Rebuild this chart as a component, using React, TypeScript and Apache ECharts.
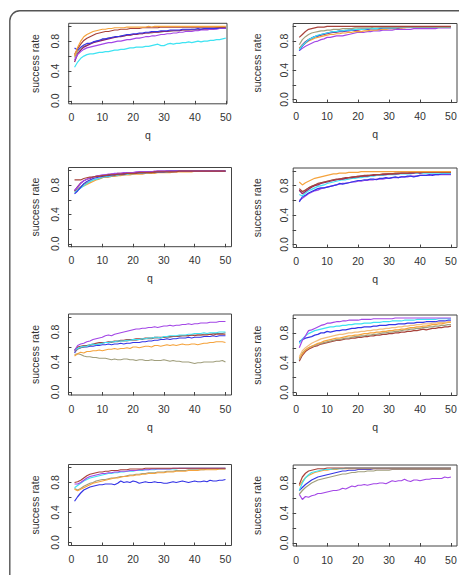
import React, { useEffect, useRef } from "react";
import * as echarts from "echarts";

// q values (x categories)
const Q = [
  1, 2, 3, 4, 5, 6, 7, 8, 9, 10, 11, 12, 13, 14, 15, 16, 17, 18, 19, 20,
  21, 22, 23, 24, 25, 26, 27, 28, 29, 30, 31, 32, 33, 34, 35, 36, 37, 38, 39, 40,
  41, 42, 43, 44, 45, 46, 47, 48, 49, 50,
];

const X_TICKS = [0, 10, 20, 30, 40, 50];
const Y_TICKS = [0, 0.2, 0.4, 0.6, 0.8, 1.0];
const Y_LABELS = [0, 0.4, 0.8];

// ---------- Panel 1 ----------
const P1_ORANGE = [
  0.60, 0.72, 0.80, 0.86, 0.89, 0.91, 0.93, 0.94, 0.95, 0.96,
  0.96, 0.97, 0.97, 0.98, 0.98, 0.98, 0.98, 0.99, 0.99, 0.99,
  0.99, 0.99, 0.99, 0.99, 1.00, 0.99, 1.00, 1.00, 1.00, 1.00,
  1.00, 1.00, 1.00, 1.00, 1.00, 1.00, 1.00, 1.00, 1.00, 1.00,
  1.00, 1.00, 1.00, 1.00, 1.00, 1.00, 1.00, 1.00, 1.00, 1.00,
];
const P1_BROWN = [
  0.62, 0.70, 0.76, 0.81, 0.84, 0.86, 0.88, 0.90, 0.91, 0.92,
  0.93, 0.93, 0.94, 0.95, 0.95, 0.96, 0.96, 0.96, 0.97, 0.97,
  0.97, 0.97, 0.98, 0.98, 0.98, 0.98, 0.98, 0.98, 0.99, 0.99,
  0.99, 0.99, 0.99, 0.99, 0.99, 0.99, 0.99, 0.99, 0.99, 0.99,
  0.99, 0.99, 0.99, 0.99, 0.99, 0.99, 0.99, 0.99, 0.99, 0.99,
];
const P1_BLUE = [
  0.71, 0.68, 0.72, 0.75, 0.77, 0.77, 0.79, 0.80, 0.81, 0.83,
  0.83, 0.84, 0.85, 0.86, 0.86, 0.87, 0.88, 0.89, 0.89, 0.90,
  0.90, 0.91, 0.91, 0.92, 0.92, 0.93, 0.93, 0.93, 0.94, 0.94,
  0.94, 0.95, 0.95, 0.95, 0.95, 0.96, 0.96, 0.96, 0.96, 0.96,
  0.97, 0.96, 0.97, 0.97, 0.97, 0.97, 0.97, 0.98, 0.98, 0.98,
];
const P1_PURPLE = [
  0.55, 0.62, 0.66, 0.69, 0.71, 0.72, 0.73, 0.74, 0.75, 0.76,
  0.77, 0.78, 0.78, 0.79, 0.80, 0.80, 0.81, 0.82, 0.82, 0.83,
  0.84, 0.84, 0.85, 0.86, 0.86, 0.87, 0.87, 0.88, 0.89, 0.89,
  0.90, 0.90, 0.91, 0.91, 0.92, 0.92, 0.93, 0.93, 0.93, 0.94,
  0.94, 0.95, 0.95, 0.95, 0.96, 0.96, 0.96, 0.97, 0.97, 0.97,
];
const P1_MAGENTA = [
  0.52, 0.63, 0.68, 0.72, 0.74, 0.76, 0.78, 0.79, 0.80, 0.81,
  0.82, 0.83, 0.84, 0.85, 0.86, 0.86, 0.87, 0.88, 0.88, 0.89,
  0.89, 0.90, 0.90, 0.91, 0.91, 0.92, 0.92, 0.92, 0.93, 0.93,
  0.93, 0.94, 0.94, 0.94, 0.94, 0.95, 0.95, 0.95, 0.95, 0.95,
  0.95, 0.96, 0.96, 0.96, 0.96, 0.96, 0.97, 0.97, 0.97, 0.97,
];
const P1_KHAKI = [
  0.58, 0.66, 0.70, 0.73, 0.75, 0.77, 0.78, 0.80, 0.81, 0.82,
  0.83, 0.84, 0.85, 0.85, 0.86, 0.87, 0.87, 0.88, 0.88, 0.89,
  0.89, 0.90, 0.90, 0.91, 0.91, 0.91, 0.92, 0.92, 0.92, 0.93,
  0.93, 0.93, 0.94, 0.94, 0.94, 0.95, 0.95, 0.95, 0.96, 0.96,
  0.96, 0.96, 0.97, 0.97, 0.97, 0.97, 0.98, 0.98, 0.98, 0.98,
];
const P1_CYAN = [
  0.45, 0.52, 0.57, 0.60, 0.62, 0.63, 0.63, 0.64, 0.65, 0.65,
  0.66, 0.66, 0.67, 0.68, 0.68, 0.69, 0.69, 0.70, 0.71, 0.71,
  0.72, 0.72, 0.72, 0.73, 0.73, 0.74, 0.75, 0.76, 0.74, 0.74,
  0.76, 0.77, 0.76, 0.77, 0.77, 0.78, 0.78, 0.79, 0.78, 0.79,
  0.80, 0.79, 0.80, 0.80, 0.81, 0.81, 0.82, 0.82, 0.83, 0.84,
];

// ---------- Panel 2 ----------
const P2_BROWN = [
  0.85, 0.89, 0.93, 0.96, 0.97, 0.98, 0.99, 0.99, 0.99, 1.00,
  1.00, 1.00, 1.00, 1.00, 1.00, 1.00, 1.00, 1.00, 1.00, 1.00,
  1.00, 1.00, 1.00, 1.00, 1.00, 1.00, 1.00, 1.00, 1.00, 1.00,
  1.00, 1.00, 1.00, 1.00, 1.00, 1.00, 1.00, 1.00, 1.00, 1.00,
  1.00, 1.00, 1.00, 1.00, 1.00, 1.00, 1.00, 1.00, 1.00, 1.00,
];
const P2_KHAKI = [
  0.75, 0.82, 0.86, 0.89, 0.91, 0.92, 0.93, 0.94, 0.94, 0.95,
  0.95, 0.96, 0.96, 0.96, 0.97, 0.97, 0.97, 0.97, 0.98, 0.98,
  0.98, 0.98, 0.98, 0.98, 0.99, 0.99, 0.99, 0.99, 0.99, 0.99,
  0.99, 0.99, 0.99, 0.99, 0.99, 0.99, 0.99, 0.99, 0.99, 0.99,
  0.99, 0.99, 0.99, 0.99, 0.99, 0.99, 0.99, 0.99, 0.99, 0.99,
];
const P2_ORANGE = [
  0.70, 0.74, 0.77, 0.80, 0.82, 0.84, 0.85, 0.86, 0.87, 0.88,
  0.89, 0.89, 0.90, 0.90, 0.91, 0.91, 0.92, 0.92, 0.93, 0.93,
  0.93, 0.94, 0.94, 0.95, 0.95, 0.95, 0.96, 0.96, 0.96, 0.97,
  0.97, 0.97, 0.98, 0.98, 0.98, 0.99, 0.99, 0.99, 0.99, 0.99,
  0.99, 0.99, 0.99, 0.99, 0.99, 0.99, 0.99, 0.99, 0.99, 0.99,
];
const P2_CYAN = [
  0.68, 0.74, 0.78, 0.82, 0.84, 0.86, 0.88, 0.89, 0.90, 0.91,
  0.92, 0.93, 0.93, 0.94, 0.94, 0.95, 0.95, 0.95, 0.96, 0.96,
  0.96, 0.96, 0.97, 0.97, 0.97, 0.97, 0.98, 0.98, 0.98, 0.98,
  0.98, 0.98, 0.99, 0.99, 0.99, 0.99, 0.99, 0.99, 0.99, 0.99,
  0.99, 0.99, 0.99, 0.99, 0.99, 0.99, 0.99, 0.99, 0.99, 0.99,
];
const P2_BLUE = [
  0.67, 0.73, 0.78, 0.81, 0.84, 0.86, 0.87, 0.89, 0.90, 0.91,
  0.92, 0.93, 0.93, 0.94, 0.94, 0.94, 0.95, 0.95, 0.95, 0.96,
  0.96, 0.96, 0.96, 0.97, 0.97, 0.97, 0.97, 0.98, 0.98, 0.98,
  0.98, 0.98, 0.98, 0.99, 0.99, 0.99, 0.99, 0.99, 0.99, 0.99,
  0.99, 0.99, 0.99, 0.99, 0.99, 0.99, 0.99, 0.99, 0.99, 0.99,
];
const P2_PURPLE = [
  0.67, 0.70, 0.73, 0.75, 0.77, 0.79, 0.80, 0.82, 0.83, 0.85,
  0.85, 0.86, 0.87, 0.87, 0.87, 0.88, 0.89, 0.90, 0.91, 0.92,
  0.92, 0.92, 0.93, 0.93, 0.94, 0.94, 0.94, 0.95, 0.95, 0.95,
  0.95, 0.96, 0.96, 0.96, 0.96, 0.96, 0.96, 0.97, 0.97, 0.97,
  0.97, 0.97, 0.97, 0.97, 0.97, 0.98, 0.98, 0.98, 0.98, 0.98,
];
const P2_MAGENTA = [
  0.70, 0.75, 0.79, 0.82, 0.84, 0.86, 0.87, 0.88, 0.89, 0.90,
  0.91, 0.92, 0.92, 0.93, 0.93, 0.94, 0.94, 0.95, 0.95, 0.95,
  0.96, 0.96, 0.96, 0.97, 0.97, 0.97, 0.97, 0.98, 0.98, 0.98,
  0.98, 0.98, 0.98, 0.98, 0.99, 0.99, 0.99, 0.99, 0.99, 0.99,
  0.99, 0.99, 0.99, 0.99, 0.99, 0.99, 0.99, 0.99, 0.99, 0.99,
];

// ---------- Panel 3 ----------
const P3_BROWN = [
  0.87, 0.87, 0.87, 0.89, 0.90, 0.91, 0.91, 0.92, 0.92, 0.93,
  0.93, 0.94, 0.94, 0.94, 0.95, 0.95, 0.95, 0.96, 0.96, 0.96,
  0.96, 0.97, 0.97, 0.97, 0.97, 0.97, 0.98, 0.98, 0.98, 0.98,
  0.98, 0.98, 0.98, 0.98, 0.99, 0.99, 0.99, 0.99, 0.99, 0.99,
  0.99, 0.99, 0.99, 0.99, 0.99, 0.99, 0.99, 0.99, 0.99, 0.99,
];
const P3_PURPLE = [
  0.73, 0.77, 0.82, 0.86, 0.88, 0.90, 0.91, 0.92, 0.93, 0.94,
  0.94, 0.95, 0.95, 0.96, 0.96, 0.96, 0.97, 0.97, 0.97, 0.97,
  0.98, 0.98, 0.98, 0.98, 0.98, 0.98, 0.99, 0.99, 0.99, 0.99,
  0.99, 0.99, 0.99, 0.99, 0.99, 0.99, 0.99, 0.99, 0.99, 0.99,
  0.99, 0.99, 0.99, 0.99, 0.99, 0.99, 0.99, 0.99, 0.99, 0.99,
];
const P3_MAGENTA = [
  0.72, 0.78, 0.83, 0.86, 0.88, 0.89, 0.91, 0.92, 0.93, 0.93,
  0.94, 0.94, 0.95, 0.95, 0.96, 0.96, 0.96, 0.97, 0.97, 0.97,
  0.97, 0.98, 0.98, 0.98, 0.98, 0.98, 0.98, 0.99, 0.99, 0.99,
  0.99, 0.99, 0.99, 0.99, 0.99, 0.99, 0.99, 0.99, 0.99, 0.99,
  0.99, 0.99, 0.99, 0.99, 0.99, 0.99, 0.99, 0.99, 0.99, 0.99,
];
const P3_BLUE = [
  0.68, 0.72, 0.77, 0.82, 0.85, 0.87, 0.89, 0.90, 0.91, 0.92,
  0.93, 0.93, 0.94, 0.94, 0.95, 0.95, 0.95, 0.96, 0.96, 0.96,
  0.97, 0.97, 0.97, 0.97, 0.98, 0.98, 0.98, 0.98, 0.98, 0.98,
  0.99, 0.99, 0.99, 0.99, 0.99, 0.99, 0.99, 0.99, 0.99, 0.99,
  0.99, 0.99, 0.99, 0.99, 0.99, 0.99, 0.99, 0.99, 0.99, 0.99,
];
const P3_CYAN = [
  0.70, 0.73, 0.76, 0.79, 0.82, 0.85, 0.87, 0.88, 0.89, 0.91,
  0.92, 0.92, 0.93, 0.94, 0.94, 0.95, 0.95, 0.95, 0.96, 0.96,
  0.96, 0.97, 0.97, 0.97, 0.97, 0.98, 0.98, 0.98, 0.98, 0.98,
  0.98, 0.99, 0.99, 0.99, 0.99, 0.99, 0.99, 0.99, 0.99, 0.99,
  0.99, 0.99, 0.99, 0.99, 0.99, 0.99, 0.99, 0.99, 0.99, 0.99,
];
const P3_ORANGE = [
  0.71, 0.74, 0.77, 0.79, 0.81, 0.83, 0.85, 0.87, 0.88, 0.90,
  0.91, 0.91, 0.92, 0.92, 0.93, 0.93, 0.94, 0.94, 0.94, 0.95,
  0.95, 0.95, 0.95, 0.96, 0.96, 0.96, 0.96, 0.97, 0.97, 0.97,
  0.97, 0.97, 0.98, 0.98, 0.98, 0.98, 0.98, 0.98, 0.98, 0.99,
  0.99, 0.99, 0.99, 0.99, 0.99, 0.99, 0.99, 0.99, 0.99, 0.99,
];
const P3_KHAKI = [
  0.72, 0.75, 0.78, 0.81, 0.83, 0.85, 0.87, 0.88, 0.89, 0.90,
  0.91, 0.91, 0.92, 0.93, 0.93, 0.94, 0.94, 0.95, 0.95, 0.95,
  0.96, 0.96, 0.96, 0.97, 0.97, 0.97, 0.97, 0.98, 0.98, 0.98,
  0.98, 0.98, 0.98, 0.99, 0.99, 0.99, 0.99, 0.99, 0.99, 0.99,
  0.99, 0.99, 0.99, 0.99, 0.99, 0.99, 0.99, 0.99, 0.99, 0.99,
];

// ---------- Panel 4 ----------
const P4_ORANGE = [
  0.85, 0.81, 0.84, 0.86, 0.88, 0.90, 0.91, 0.92, 0.93, 0.94,
  0.95, 0.96, 0.96, 0.97, 0.97, 0.97, 0.98, 0.98, 0.98, 0.98,
  0.99, 0.99, 0.99, 0.99, 0.99, 0.99, 0.99, 0.99, 0.99, 0.99,
  0.99, 0.99, 0.99, 0.99, 0.99, 0.99, 0.99, 0.99, 0.99, 0.99,
  0.99, 0.99, 0.99, 0.99, 0.99, 0.99, 0.99, 0.99, 0.99, 0.99,
];
const P4_BROWN = [
  0.76, 0.72, 0.74, 0.77, 0.79, 0.81, 0.83, 0.84, 0.85, 0.86,
  0.87, 0.88, 0.89, 0.89, 0.90, 0.91, 0.91, 0.92, 0.92, 0.93,
  0.93, 0.94, 0.94, 0.94, 0.95, 0.95, 0.95, 0.96, 0.96, 0.96,
  0.96, 0.97, 0.97, 0.97, 0.97, 0.97, 0.98, 0.98, 0.98, 0.98,
  0.98, 0.98, 0.98, 0.98, 0.98, 0.98, 0.98, 0.98, 0.98, 0.98,
];
const P4_MAGENTA = [
  0.74, 0.69, 0.72, 0.75, 0.78, 0.80, 0.81, 0.83, 0.84, 0.85,
  0.86, 0.87, 0.88, 0.89, 0.89, 0.90, 0.91, 0.91, 0.92, 0.92,
  0.93, 0.93, 0.93, 0.94, 0.94, 0.95, 0.95, 0.95, 0.95, 0.96,
  0.96, 0.96, 0.96, 0.97, 0.97, 0.97, 0.97, 0.97, 0.98, 0.97,
  0.98, 0.98, 0.98, 0.98, 0.98, 0.98, 0.98, 0.98, 0.98, 0.98,
];
const P4_KHAKI = [
  0.73, 0.71, 0.74, 0.77, 0.79, 0.81, 0.82, 0.84, 0.85, 0.86,
  0.87, 0.88, 0.88, 0.89, 0.90, 0.90, 0.91, 0.91, 0.92, 0.92,
  0.93, 0.93, 0.94, 0.94, 0.94, 0.95, 0.95, 0.95, 0.96, 0.96,
  0.96, 0.96, 0.97, 0.97, 0.97, 0.97, 0.97, 0.98, 0.98, 0.98,
  0.98, 0.98, 0.98, 0.98, 0.98, 0.98, 0.98, 0.98, 0.98, 0.98,
];
const P4_CYAN = [
  0.68, 0.66, 0.70, 0.73, 0.75, 0.77, 0.79, 0.80, 0.81, 0.83,
  0.84, 0.85, 0.86, 0.87, 0.88, 0.88, 0.89, 0.90, 0.90, 0.91,
  0.91, 0.92, 0.92, 0.93, 0.93, 0.94, 0.94, 0.94, 0.95, 0.95,
  0.95, 0.95, 0.96, 0.96, 0.96, 0.96, 0.96, 0.97, 0.97, 0.97,
  0.97, 0.97, 0.97, 0.97, 0.97, 0.97, 0.97, 0.97, 0.97, 0.97,
];
const P4_BLUE = [
  0.58, 0.65, 0.67, 0.70, 0.72, 0.74, 0.76, 0.77, 0.77, 0.78,
  0.79, 0.80, 0.81, 0.83, 0.82, 0.83, 0.84, 0.85, 0.86, 0.87,
  0.87, 0.88, 0.88, 0.89, 0.89, 0.88, 0.90, 0.90, 0.91, 0.90,
  0.91, 0.92, 0.91, 0.92, 0.92, 0.93, 0.93, 0.92, 0.93, 0.94,
  0.94, 0.94, 0.95, 0.94, 0.95, 0.95, 0.96, 0.96, 0.96, 0.96,
];
const P4_PURPLE = [
  0.60, 0.63, 0.66, 0.69, 0.71, 0.73, 0.74, 0.76, 0.77, 0.78,
  0.79, 0.80, 0.81, 0.82, 0.83, 0.83, 0.84, 0.85, 0.85, 0.86,
  0.86, 0.87, 0.87, 0.88, 0.88, 0.89, 0.89, 0.89, 0.90, 0.90,
  0.91, 0.91, 0.91, 0.92, 0.92, 0.92, 0.93, 0.93, 0.93, 0.94,
  0.94, 0.94, 0.94, 0.95, 0.95, 0.95, 0.95, 0.95, 0.95, 0.95,
];

// ---------- Panel 5 ----------
const P5_PURPLE = [
  0.55, 0.62, 0.64, 0.65, 0.67, 0.68, 0.70, 0.71, 0.72, 0.73,
  0.75, 0.76, 0.75, 0.77, 0.78, 0.79, 0.80, 0.81, 0.82, 0.83,
  0.84, 0.84, 0.85, 0.85, 0.86, 0.86, 0.87, 0.86, 0.87, 0.88,
  0.88, 0.89, 0.88, 0.89, 0.89, 0.90, 0.90, 0.91, 0.90, 0.91,
  0.91, 0.92, 0.92, 0.92, 0.93, 0.93, 0.93, 0.94, 0.94, 0.94,
];
const P5_CYAN = [
  0.56, 0.58, 0.60, 0.61, 0.61, 0.63, 0.64, 0.63, 0.64, 0.65,
  0.66, 0.66, 0.67, 0.67, 0.68, 0.68, 0.68, 0.69, 0.69, 0.70,
  0.70, 0.70, 0.71, 0.71, 0.72, 0.72, 0.73, 0.73, 0.72, 0.74,
  0.74, 0.75, 0.75, 0.75, 0.76, 0.76, 0.76, 0.77, 0.77, 0.78,
  0.78, 0.78, 0.79, 0.78, 0.79, 0.79, 0.79, 0.80, 0.80, 0.80,
];
const P5_BROWN = [
  0.56, 0.60, 0.61, 0.62, 0.62, 0.63, 0.64, 0.65, 0.66, 0.66,
  0.66, 0.67, 0.67, 0.68, 0.68, 0.69, 0.69, 0.70, 0.70, 0.70,
  0.71, 0.71, 0.71, 0.72, 0.72, 0.72, 0.73, 0.73, 0.73, 0.73,
  0.74, 0.74, 0.74, 0.74, 0.75, 0.75, 0.75, 0.75, 0.76, 0.75,
  0.76, 0.76, 0.76, 0.76, 0.77, 0.76, 0.77, 0.77, 0.77, 0.77,
];
const P5_GRAY = [
  0.54, 0.57, 0.59, 0.60, 0.61, 0.62, 0.63, 0.64, 0.64, 0.65,
  0.66, 0.66, 0.66, 0.67, 0.67, 0.68, 0.68, 0.68, 0.69, 0.69,
  0.69, 0.70, 0.70, 0.71, 0.71, 0.71, 0.72, 0.72, 0.72, 0.73,
  0.73, 0.73, 0.74, 0.74, 0.74, 0.75, 0.75, 0.75, 0.76, 0.76,
  0.76, 0.76, 0.77, 0.77, 0.77, 0.78, 0.78, 0.78, 0.78, 0.79,
];
const P5_BLUE = [
  0.52, 0.58, 0.59, 0.60, 0.60, 0.61, 0.61, 0.62, 0.62, 0.63,
  0.63, 0.64, 0.63, 0.64, 0.64, 0.65, 0.64, 0.65, 0.65, 0.66,
  0.66, 0.66, 0.67, 0.67, 0.68, 0.68, 0.69, 0.69, 0.70, 0.70,
  0.71, 0.70, 0.71, 0.71, 0.72, 0.72, 0.72, 0.73, 0.72, 0.73,
  0.73, 0.73, 0.74, 0.74, 0.74, 0.75, 0.74, 0.75, 0.75, 0.75,
];
const P5_ORANGE = [
  0.48, 0.51, 0.53, 0.52, 0.54, 0.54, 0.55, 0.55, 0.56, 0.55,
  0.56, 0.57, 0.57, 0.58, 0.57, 0.58, 0.58, 0.59, 0.58, 0.60,
  0.60, 0.59, 0.60, 0.61, 0.61, 0.60, 0.62, 0.62, 0.61, 0.62,
  0.63, 0.62, 0.63, 0.62, 0.63, 0.64, 0.63, 0.63, 0.64, 0.64,
  0.63, 0.64, 0.65, 0.65, 0.66, 0.66, 0.67, 0.67, 0.67, 0.66,
];
const P5_KHAKI = [
  0.50, 0.51, 0.50, 0.48, 0.47, 0.47, 0.46, 0.46, 0.45, 0.45,
  0.45, 0.44, 0.43, 0.44, 0.43, 0.43, 0.44, 0.44, 0.43, 0.43,
  0.42, 0.43, 0.43, 0.42, 0.42, 0.43, 0.42, 0.42, 0.42, 0.43,
  0.42, 0.41, 0.42, 0.41, 0.41, 0.40, 0.40, 0.40, 0.39, 0.38,
  0.39, 0.39, 0.40, 0.40, 0.40, 0.40, 0.41, 0.41, 0.42, 0.40,
];

// ---------- Panel 6 ----------
const P6_PURPLE = [
  0.60, 0.70, 0.76, 0.83, 0.84, 0.86, 0.88, 0.90, 0.91, 0.93,
  0.93, 0.94, 0.95, 0.95, 0.96, 0.96, 0.97, 0.97, 0.97, 0.97,
  0.98, 0.98, 0.98, 0.98, 0.99, 0.99, 0.99, 0.99, 0.99, 0.99,
  0.99, 1.00, 1.00, 1.00, 1.00, 1.00, 1.00, 1.00, 1.00, 1.00,
  1.00, 1.00, 1.00, 1.00, 1.00, 1.00, 1.00, 1.00, 1.00, 1.00,
];
const P6_CYAN = [
  0.66, 0.72, 0.76, 0.79, 0.81, 0.83, 0.84, 0.85, 0.86, 0.87,
  0.88, 0.88, 0.89, 0.89, 0.90, 0.90, 0.91, 0.91, 0.92, 0.92,
  0.92, 0.93, 0.93, 0.93, 0.94, 0.94, 0.94, 0.95, 0.95, 0.95,
  0.96, 0.96, 0.96, 0.96, 0.97, 0.97, 0.97, 0.97, 0.98, 0.98,
  0.98, 0.98, 0.98, 0.98, 0.98, 0.99, 0.99, 0.99, 0.99, 0.99,
];
const P6_BLUE = [
  0.68, 0.71, 0.73, 0.74, 0.75, 0.77, 0.78, 0.80, 0.80, 0.82,
  0.81, 0.82, 0.83, 0.83, 0.84, 0.84, 0.85, 0.86, 0.86, 0.87,
  0.87, 0.88, 0.88, 0.88, 0.89, 0.89, 0.90, 0.90, 0.90, 0.91,
  0.91, 0.91, 0.92, 0.92, 0.92, 0.93, 0.93, 0.93, 0.94, 0.94,
  0.94, 0.95, 0.95, 0.95, 0.95, 0.96, 0.96, 0.96, 0.97, 0.97,
];
const P6_LIGHTORANGE = [
  0.48, 0.56, 0.60, 0.63, 0.66, 0.68, 0.70, 0.72, 0.73, 0.74,
  0.75, 0.76, 0.77, 0.78, 0.78, 0.79, 0.80, 0.80, 0.81, 0.81,
  0.82, 0.82, 0.83, 0.83, 0.84, 0.84, 0.85, 0.85, 0.86, 0.86,
  0.87, 0.87, 0.88, 0.88, 0.89, 0.89, 0.90, 0.90, 0.91, 0.91,
  0.92, 0.92, 0.92, 0.93, 0.93, 0.94, 0.94, 0.94, 0.95, 0.95,
];
const P6_ORANGE = [
  0.46, 0.52, 0.57, 0.60, 0.62, 0.64, 0.66, 0.67, 0.69, 0.70,
  0.71, 0.72, 0.73, 0.73, 0.74, 0.75, 0.76, 0.76, 0.77, 0.77,
  0.78, 0.79, 0.79, 0.80, 0.80, 0.81, 0.81, 0.82, 0.82, 0.83,
  0.83, 0.84, 0.84, 0.85, 0.85, 0.86, 0.87, 0.87, 0.88, 0.88,
  0.89, 0.89, 0.90, 0.91, 0.91, 0.92, 0.92, 0.93, 0.94, 0.94,
];
const P6_KHAKI = [
  0.44, 0.53, 0.57, 0.60, 0.62, 0.63, 0.65, 0.66, 0.67, 0.68,
  0.69, 0.70, 0.71, 0.71, 0.72, 0.73, 0.73, 0.74, 0.75, 0.75,
  0.76, 0.76, 0.77, 0.77, 0.78, 0.78, 0.79, 0.80, 0.80, 0.81,
  0.81, 0.82, 0.82, 0.83, 0.84, 0.84, 0.85, 0.85, 0.86, 0.86,
  0.87, 0.87, 0.88, 0.88, 0.89, 0.89, 0.90, 0.90, 0.91, 0.91,
];
const P6_BROWN = [
  0.42, 0.50, 0.55, 0.58, 0.60, 0.62, 0.63, 0.65, 0.66, 0.67,
  0.68, 0.69, 0.70, 0.70, 0.71, 0.72, 0.72, 0.73, 0.73, 0.74,
  0.74, 0.75, 0.75, 0.76, 0.76, 0.77, 0.77, 0.78, 0.78, 0.79,
  0.79, 0.80, 0.80, 0.81, 0.81, 0.82, 0.82, 0.83, 0.83, 0.84,
  0.85, 0.84, 0.85, 0.86, 0.86, 0.87, 0.87, 0.88, 0.88, 0.89,
];

// ---------- Panel 7 ----------
const P7_BROWN = [
  0.80, 0.81, 0.83, 0.86, 0.89, 0.91, 0.92, 0.93, 0.94, 0.94,
  0.95, 0.95, 0.96, 0.96, 0.96, 0.97, 0.97, 0.97, 0.98, 0.98,
  0.98, 0.98, 0.98, 0.99, 0.99, 0.99, 0.99, 0.99, 0.99, 0.99,
  0.99, 0.99, 0.99, 0.99, 0.99, 0.99, 0.99, 0.99, 0.99, 0.99,
  0.99, 0.99, 0.99, 0.99, 0.99, 0.99, 0.99, 0.99, 0.99, 0.99,
];
const P7_PURPLE = [
  0.78, 0.78, 0.80, 0.83, 0.86, 0.88, 0.89, 0.90, 0.91, 0.92,
  0.92, 0.93, 0.93, 0.94, 0.94, 0.95, 0.95, 0.95, 0.96, 0.96,
  0.96, 0.97, 0.97, 0.97, 0.97, 0.98, 0.98, 0.98, 0.98, 0.98,
  0.98, 0.98, 0.99, 0.99, 0.99, 0.99, 0.99, 0.99, 0.99, 0.99,
  0.99, 0.99, 0.99, 0.99, 0.99, 0.99, 0.99, 0.99, 0.99, 0.99,
];
const P7_CYAN = [
  0.73, 0.76, 0.79, 0.82, 0.84, 0.86, 0.87, 0.88, 0.89, 0.90,
  0.91, 0.92, 0.92, 0.93, 0.93, 0.94, 0.94, 0.95, 0.95, 0.95,
  0.96, 0.96, 0.96, 0.97, 0.97, 0.97, 0.97, 0.98, 0.98, 0.98,
  0.98, 0.98, 0.98, 0.98, 0.99, 0.99, 0.99, 0.99, 0.99, 0.99,
  0.99, 0.99, 0.99, 0.99, 0.99, 0.99, 0.99, 0.99, 0.99, 0.99,
];
const P7_ORANGE = [
  0.71, 0.69, 0.71, 0.73, 0.75, 0.77, 0.79, 0.80, 0.81, 0.82,
  0.83, 0.84, 0.85, 0.86, 0.86, 0.87, 0.88, 0.88, 0.89, 0.89,
  0.90, 0.90, 0.91, 0.91, 0.92, 0.92, 0.92, 0.93, 0.93, 0.93,
  0.94, 0.94, 0.94, 0.95, 0.95, 0.95, 0.95, 0.96, 0.96, 0.96,
  0.96, 0.97, 0.97, 0.97, 0.97, 0.97, 0.97, 0.98, 0.98, 0.98,
];
const P7_KHAKI = [
  0.72, 0.70, 0.72, 0.75, 0.77, 0.79, 0.80, 0.82, 0.83, 0.84,
  0.84, 0.85, 0.86, 0.86, 0.87, 0.88, 0.88, 0.89, 0.90, 0.90,
  0.91, 0.91, 0.92, 0.92, 0.93, 0.93, 0.93, 0.94, 0.94, 0.94,
  0.95, 0.95, 0.95, 0.96, 0.96, 0.96, 0.96, 0.97, 0.97, 0.97,
  0.97, 0.97, 0.97, 0.98, 0.98, 0.98, 0.98, 0.98, 0.98, 0.98,
];
const P7_BLUE = [
  0.55, 0.61, 0.66, 0.70, 0.72, 0.74, 0.75, 0.76, 0.77, 0.77,
  0.78, 0.78, 0.78, 0.77, 0.79, 0.82, 0.80, 0.81, 0.80, 0.82,
  0.81, 0.79, 0.80, 0.81, 0.80, 0.80, 0.81, 0.80, 0.80, 0.79,
  0.79, 0.80, 0.81, 0.80, 0.81, 0.82, 0.81, 0.80, 0.81, 0.82,
  0.81, 0.81, 0.82, 0.81, 0.83, 0.82, 0.82, 0.83, 0.83, 0.84,
];

// ---------- Panel 8 ----------
const P8_BROWN = [
  0.78, 0.88, 0.93, 0.96, 0.97, 0.98, 0.99, 0.99, 0.99, 1.00,
  1.00, 1.00, 1.00, 1.00, 1.00, 1.00, 1.00, 1.00, 1.00, 1.00,
  1.00, 1.00, 1.00, 1.00, 1.00, 1.00, 1.00, 1.00, 1.00, 1.00,
  1.00, 1.00, 1.00, 1.00, 1.00, 1.00, 1.00, 1.00, 1.00, 1.00,
  1.00, 1.00, 1.00, 1.00, 1.00, 1.00, 1.00, 1.00, 1.00, 1.00,
];
const P8_CYAN = [
  0.70, 0.80, 0.87, 0.91, 0.94, 0.95, 0.96, 0.97, 0.98, 0.98,
  0.98, 0.99, 0.99, 0.99, 0.99, 1.00, 1.00, 1.00, 1.00, 1.00,
  1.00, 1.00, 1.00, 1.00, 1.00, 1.00, 1.00, 1.00, 1.00, 1.00,
  1.00, 1.00, 1.00, 1.00, 1.00, 1.00, 1.00, 1.00, 1.00, 1.00,
  1.00, 1.00, 1.00, 1.00, 1.00, 1.00, 1.00, 1.00, 1.00, 1.00,
];
const P8_ORANGE = [
  0.76, 0.82, 0.87, 0.90, 0.92, 0.94, 0.95, 0.96, 0.97, 0.97,
  0.98, 0.98, 0.98, 0.99, 0.99, 0.99, 0.99, 0.99, 0.99, 0.99,
  0.99, 0.99, 0.99, 0.99, 0.99, 0.99, 0.99, 0.99, 0.99, 0.99,
  0.99, 0.99, 0.99, 0.99, 0.99, 0.99, 0.99, 0.99, 0.99, 0.99,
  0.99, 0.99, 0.99, 0.99, 0.99, 0.99, 0.99, 0.99, 0.99, 0.99,
];
const P8_BLUE = [
  0.70, 0.74, 0.78, 0.81, 0.84, 0.86, 0.88, 0.89, 0.90, 0.91,
  0.92, 0.93, 0.94, 0.95, 0.96, 0.96, 0.97, 0.97, 0.97, 0.98,
  0.98, 0.98, 0.98, 0.98, 0.99, 0.99, 0.99, 0.99, 0.99, 0.99,
  0.99, 0.99, 0.99, 0.99, 0.99, 0.99, 0.99, 0.99, 0.99, 0.99,
  0.99, 0.99, 0.99, 0.99, 0.99, 0.99, 0.99, 0.99, 0.99, 0.99,
];
const P8_KHAKI = [
  0.65, 0.70, 0.74, 0.77, 0.80, 0.82, 0.84, 0.85, 0.86, 0.87,
  0.88, 0.89, 0.90, 0.91, 0.92, 0.92, 0.93, 0.94, 0.94, 0.95,
  0.95, 0.95, 0.96, 0.96, 0.96, 0.97, 0.97, 0.97, 0.97, 0.97,
  0.98, 0.98, 0.98, 0.98, 0.98, 0.98, 0.98, 0.98, 0.98, 0.98,
  0.98, 0.98, 0.98, 0.98, 0.98, 0.98, 0.98, 0.98, 0.98, 0.98,
];
const P8_PURPLE = [
  0.65, 0.58, 0.62, 0.61, 0.63, 0.64, 0.66, 0.66, 0.67, 0.68,
  0.69, 0.70, 0.70, 0.71, 0.73, 0.72, 0.74, 0.76, 0.75, 0.77,
  0.77, 0.78, 0.77, 0.78, 0.79, 0.79, 0.80, 0.80, 0.79, 0.81,
  0.83, 0.82, 0.83, 0.83, 0.85, 0.83, 0.82, 0.84, 0.84, 0.83,
  0.84, 0.85, 0.85, 0.86, 0.86, 0.86, 0.86, 0.88, 0.87, 0.88,
];

// ---------- styles ----------
const C = {
  orange: "#F5A33C",
  lightorange: "#F2BE7E",
  brown: "#A8423A",
  blue: "#3434E6",
  purple: "#A347E6",
  cyan: "#3EE3F2",
  magenta: "#8E1F6E",
  khaki: "#A09E7C",
  gray: "#808080",
};

const PANELS: [number[], string][][] = [
  [[P1_KHAKI, C.khaki], [P1_CYAN, C.cyan], [P1_MAGENTA, C.magenta], [P1_PURPLE, C.purple], [P1_BLUE, C.blue], [P1_BROWN, C.brown], [P1_ORANGE, C.orange]],
  [[P2_PURPLE, C.purple], [P2_MAGENTA, C.magenta], [P2_ORANGE, C.orange], [P2_BLUE, C.blue], [P2_CYAN, C.cyan], [P2_KHAKI, C.khaki], [P2_BROWN, C.brown]],
  [[P3_ORANGE, C.orange], [P3_KHAKI, C.khaki], [P3_CYAN, C.cyan], [P3_BLUE, C.blue], [P3_MAGENTA, C.magenta], [P3_PURPLE, C.purple], [P3_BROWN, C.brown]],
  [[P4_PURPLE, C.purple], [P4_BLUE, C.blue], [P4_CYAN, C.cyan], [P4_KHAKI, C.khaki], [P4_MAGENTA, C.magenta], [P4_BROWN, C.brown], [P4_ORANGE, C.orange]],
  [[P5_KHAKI, C.khaki], [P5_ORANGE, C.orange], [P5_BLUE, C.blue], [P5_GRAY, C.gray], [P5_BROWN, C.brown], [P5_CYAN, C.cyan], [P5_PURPLE, C.purple]],
  [[P6_BROWN, C.brown], [P6_KHAKI, C.khaki], [P6_ORANGE, C.orange], [P6_LIGHTORANGE, C.lightorange], [P6_BLUE, C.blue], [P6_CYAN, C.cyan], [P6_PURPLE, C.purple]],
  [[P7_BLUE, C.blue], [P7_KHAKI, C.khaki], [P7_ORANGE, C.orange], [P7_CYAN, C.cyan], [P7_PURPLE, C.purple], [P7_BROWN, C.brown]],
  [[P8_PURPLE, C.purple], [P8_KHAKI, C.khaki], [P8_BLUE, C.blue], [P8_ORANGE, C.orange], [P8_CYAN, C.cyan], [P8_BROWN, C.brown]],
];

// panel boxes (pixels) and x-range
const LAYOUT = [
  { left: 60.7, top: 15.3, width: 158.3, height: 80.5, xMin: -0.9, xMax: 50.4, col: 0 },
  { left: 285.2, top: 15.5, width: 163.8, height: 79.0, xMin: -0.96, xMax: 51.96, col: 1 },
  { left: 60.5, top: 159.5, width: 163.0, height: 79.2, xMin: -0.96, xMax: 51.96, col: 0 },
  { left: 285.2, top: 160.0, width: 163.8, height: 79.5, xMin: -0.96, xMax: 51.96, col: 1 },
  { left: 60.5, top: 306.0, width: 163.0, height: 81.0, xMin: -0.96, xMax: 51.96, col: 0 },
  { left: 285.2, top: 307.0, width: 163.8, height: 80.5, xMin: -0.96, xMax: 51.96, col: 1 },
  { left: 60.5, top: 456.5, width: 163.0, height: 81.0, xMin: -0.96, xMax: 51.96, col: 0 },
  { left: 285.2, top: 457.0, width: 163.8, height: 81.0, xMin: -0.96, xMax: 51.96, col: 1 },
];

const FONT = "'Liberation Sans', Arial, Helvetica, sans-serif";
const TEXT = "#333";
const AXIS = "#444";
const FS = 10.5;

function buildOption() {
  const grid = LAYOUT.map((L) => ({
    left: L.left,
    top: L.top,
    width: L.width,
    height: L.height,
    show: true,
    borderColor: AXIS,
    borderWidth: 1,
    backgroundColor: "transparent",
    containLabel: false,
    outerBoundsMode: "none",
  }));
  const xAxis = LAYOUT.map((L, i) => ({
    type: "value",
    gridIndex: i,
    min: L.xMin,
    max: L.xMax,
    splitLine: { show: false },
    axisLine: { show: false },
    axisTick: { show: true, customValues: X_TICKS, length: 3.5, inside: false, lineStyle: { color: AXIS, width: 1 } },
    axisLabel: {
      customValues: X_TICKS,
      margin: 8,
      fontSize: FS,
      color: TEXT,
      fontFamily: FONT,
      formatter: (v: number) => String(v),
    },
    name: "q",
    nameLocation: "middle",
    nameGap: 26,
    nameTextStyle: { fontSize: FS, color: TEXT, fontFamily: FONT },
  }));
  const yAxis = LAYOUT.map((L, i) => ({
    type: "value",
    gridIndex: i,
    min: -0.04,
    max: 1.04,
    splitLine: { show: false },
    axisLine: { show: false },
    axisTick: { show: true, customValues: Y_TICKS, length: 3.5, inside: false, lineStyle: { color: AXIS, width: 1 } },
    axisLabel: {
      customValues: Y_LABELS,
      rotate: 90,
      margin: L.col === 0 ? 8 : 4,
      fontSize: FS,
      color: TEXT,
      fontFamily: FONT,
      formatter: (v: number) => v.toFixed(1),
    },
    name: "success rate",
    nameLocation: "middle",
    nameGap: L.col === 0 ? 28 : 31,
    nameTextStyle: { fontSize: FS, color: TEXT, fontFamily: FONT },
  }));
  const series: any[] = [];
  PANELS.forEach((lines, p) => {
    lines.forEach(([vals, color]) => {
      series.push({
        type: "line",
        xAxisIndex: p,
        yAxisIndex: p,
        data: vals.map((v, k) => [Q[k], v]),
        showSymbol: false,
        symbol: "none",
        silent: true,
        lineStyle: { color, width: 1.2 },
        itemStyle: { color },
        emphasis: { disabled: true },
      });
    });
  });
  return {
    animation: false,
    backgroundColor: "#fff",
    tooltip: { show: false },
    grid,
    xAxis,
    yAxis,
    series,
    graphic: [
      {
        type: "rect",
        silent: true,
        z: 100,
        shape: { x: 1.8, y: 2.8, width: 464.5, height: 640, r: 10 },
        style: { fill: "none", stroke: "#555", lineWidth: 1.4 },
      },
    ],
  };
}

export default function App() {
  const ref = useRef<HTMLDivElement>(null);
  useEffect(() => {
    if (!ref.current) return;
    const chart = echarts.init(ref.current, null, { renderer: "svg" });
    chart.setOption(buildOption() as any);
    return () => chart.dispose();
  }, []);
  return (
    <div
      ref={ref}
      style={{ position: "fixed", left: 0, top: 0, width: 467, height: 575, background: "#fff" }}
    />
  );
}
